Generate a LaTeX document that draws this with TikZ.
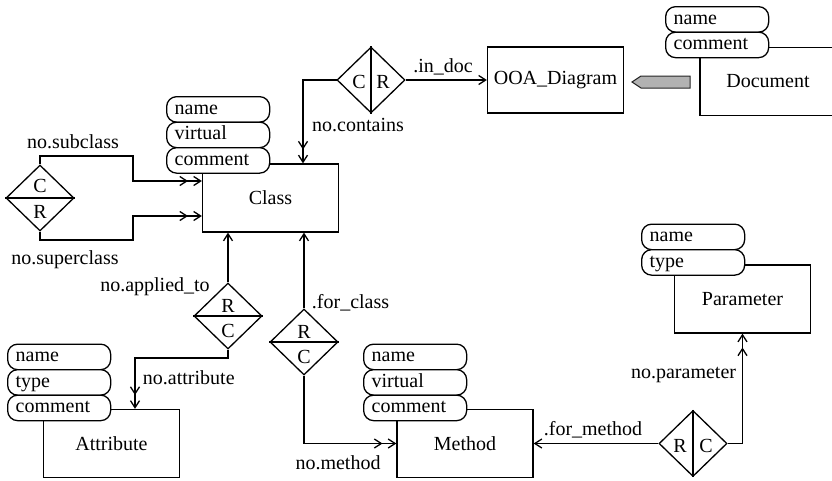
\documentclass[tikz,border=0pt]{standalone}
\usepackage{fontspec}
\setmainfont{Liberation Serif}
\usetikzlibrary{shapes.geometric,arrows.meta}

\begin{document}
\begin{tikzpicture}[x=1pt,y=-1pt,line width=1.3pt,line join=miter,
    font=\fontsize{20}{24}\selectfont,
    ent/.style={draw, minimum width=136pt, minimum height=68pt},
    pill/.style={draw, fill=white, rounded corners=10pt, anchor=north west,
      text width=87pt, inner xsep=8pt, inner ysep=0pt, minimum height=25.5pt,
      text height=14pt, text depth=4pt, align=left},
    dia/.style={draw, diamond, inner sep=0pt, minimum width=68pt, minimum height=66pt},
    tomany/.style={-{Straight Barb[length=7pt,width=9pt,sep=5pt]Straight Barb[length=7pt,width=9pt]}},
    toone/.style={-{Straight Barb[length=7pt,width=9pt]}}]
            \useasboundingbox (0,0) rectangle (832,480);
            \clip (0,0) rectangle (832,480);
            \node[ent] (class) at (270.5,198) {Class};
            \node[ent] (attr) at (111.5,443.5) {Attribute};
            \node[ent] (meth) at (465,443.5) {Method};
            \node[ent] (param) at (742.5,299) {Parameter};
            \node[ent, minimum height=66pt] (ooa) at (555.5,80) {OOA\_Diagram};
            \node[ent] (doc) at (768,81.5) {Document};
            \foreach \t [count=\i] in {name,virtual,comment}{
              \node[pill] (class-\t) at (166,70.5+25.5*\i) {\t};
              \node[pill] (meth-\t) at (363,318+25.5*\i) {\t};
            }
            \foreach \t [count=\i] in {name,type,comment}{
              \node[pill] (attr-\t) at (7,318+25.5*\i) {\t};
            }
            \foreach \t [count=\i] in {name,type}{
              \node[pill] (param-\t) at (641,198+25.5*\i) {\t};
            }
            \foreach \t [count=\i] in {name,comment}{
              \node[pill] (doc-\t) at (665,-19.5+25.5*\i) {\t};
            }
            \filldraw[fill=gray!60, draw=black!85, line width=1pt]
              (632,82) -- (641,76) -- (690,76) -- (690,88) -- (641,88) -- cycle;
            \node[dia] (dsub) at (40,198) {};
            \draw (dsub.west) -- (dsub.east);
            \node (dsub-c) at (40,186) {C};
            \node (dsub-r) at (40,212) {R};
            \node[dia] (dcont) at (371,80) {};
            \draw (dcont.north) -- (dcont.south);
            \node (dcont-c) at (359,82) {C};
            \node (dcont-r) at (383,82) {R};
            \node[dia] (dapp) at (228,316) {};
            \draw (dapp.west) -- (dapp.east);
            \node (dapp-r) at (228,306) {R};
            \node (dapp-c) at (228,331) {C};
            \node[dia] (dfor) at (304,342) {};
            \draw (dfor.west) -- (dfor.east);
            \node (dfor-r) at (304,332) {R};
            \node (dfor-c) at (304,357) {C};
            \node[dia] (dmeth) at (693,443.5) {};
            \draw (dmeth.north) -- (dmeth.south);
            \node (dmeth-r) at (680,446) {R};
            \node (dmeth-c) at (706,446) {C};
            \coordinate (kcont) at (303,80);
            \draw[tomany] (dsub.north) |- (133,156) |- (class.west |- 0,181);
            \draw[tomany] (dsub.south) |- (133,240) |- (class.west |- 0,216);
            \draw[line cap=rect] (dcont.west) -- (kcont);
            \draw[tomany] (kcont) -- (class.north -| kcont);
            \draw[toone] (dcont.east) -- (ooa.west);
            \draw[toone] (dapp.north) -- (class.south -| dapp.north);
            \draw[tomany] (dapp.south) |- (135,358) -- (attr.north -| 135,0);
            \draw[toone] (dfor.north) -- (class.south -| dfor.north);
            \draw[tomany] (dfor.south) |- (meth.west);
            \draw[toone] (dmeth.west) -- (meth.east);
            \draw[tomany] (dmeth.east) -| (param.south);
            \node (l-sub) at (73,142) {no.subclass};
            \node (l-super) at (65,260) {no.superclass};
            \node (l-contains) at (358,125) {no.contains};
            \node (l-indoc) at (443,67) {.in\_doc};
            \node (l-applied) at (155,287) {no.applied\_to};
            \node[anchor=west] (l-attr) at (139,378) {no.attribute};
            \node[anchor=west] (l-forclass) at (308,303) {.for\_class};
            \node (l-meth) at (338,463) {no.method};
            \node (l-formeth) at (593,430) {.for\_method};
            \node[anchor=east] (l-param) at (740,375) {no.parameter};
          \end{tikzpicture}
\end{document}
